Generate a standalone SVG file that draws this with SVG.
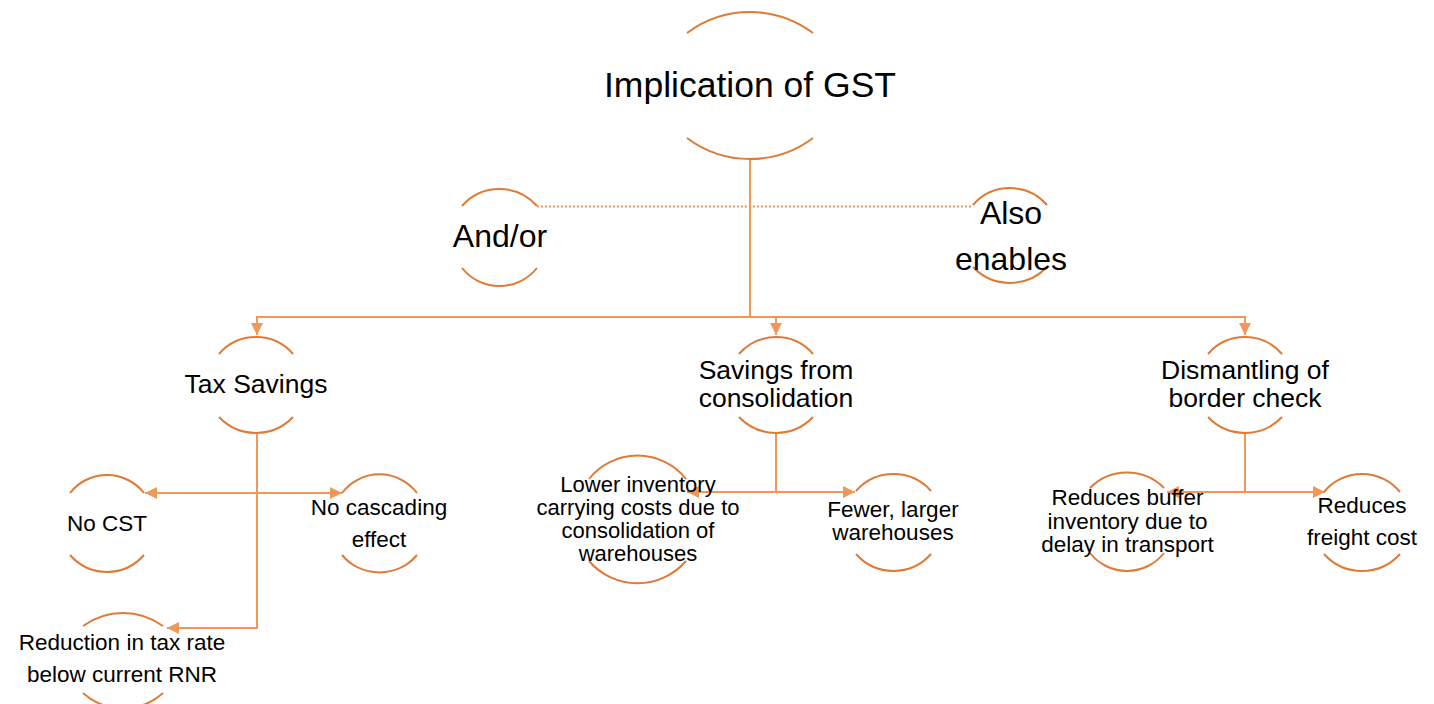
<svg xmlns="http://www.w3.org/2000/svg" width="1434" height="704" viewBox="0 0 1434 704">
<style>
.arc{fill:none;stroke:#E07A35;stroke-width:2}
.con{fill:none;stroke:#F0975A;stroke-width:2}
.dot{fill:none;stroke:#F0975A;stroke-width:2;stroke-dasharray:2 2}
text{font-family:"Liberation Sans",Arial,sans-serif;fill:#000;text-anchor:middle}
.t1{font-size:35.5px}
.t2{font-size:32px}
.t3{font-size:26.5px}
.t4{font-size:22.5px}
.t5{font-size:22px}
</style>
<defs>
<marker id="ah" markerUnits="userSpaceOnUse" markerWidth="12" markerHeight="12" refX="12" refY="6" orient="auto">
<path d="M0,0 L12,6 L0,12 z" fill="#F0975A"/>
</marker>
</defs>
<rect width="1434" height="704" fill="#fff"/>
<g id="connectors">
<path class="con" d="M750,159 V317"/>
<path class="con" d="M750,317 H257 V335" marker-end="url(#ah)"/>
<path class="con" d="M750,317 H1245 V335" marker-end="url(#ah)"/>
<path class="con" d="M776,317 V335" marker-end="url(#ah)"/>
<path class="dot" d="M537,206.5 H972"/>
<path class="con" d="M257,433 V493 H145" marker-end="url(#ah)"/>
<path class="con" d="M257,493 H342" marker-end="url(#ah)"/>
<path class="con" d="M257,493 V628 H167" marker-end="url(#ah)"/>
<path class="con" d="M776,434 V492 H687" marker-end="url(#ah)"/>
<path class="con" d="M776,492 H855" marker-end="url(#ah)"/>
<path class="con" d="M1245,434 V492 H1167" marker-end="url(#ah)"/>
<path class="con" d="M1245,492 H1325" marker-end="url(#ah)"/>
</g>
<g id="node-implication">
<path class="arc" d="M687,33 A105,105 0 0 1 813,33"/>
<path class="arc" d="M687,138 A105,105 0 0 0 813,138"/>
<text class="t1" x="750" y="97">Implication of GST</text>
</g>
<g id="node-andor">
<path class="arc" d="M462,206 A50,50 0 0 1 537,206"/>
<path class="arc" d="M462,268 A48,48 0 0 0 537,268"/>
<text class="t2" x="500" y="247">And/or</text>
</g>
<g id="node-also">
<path class="arc" d="M973,205 A49,49 0 0 1 1047,205"/>
<path class="arc" d="M973,267 A51,51 0 0 0 1047,267"/>
<text class="t2" x="1011" y="224">Also</text>
<text class="t2" x="1011" y="270">enables</text>
</g>
<g id="node-tax">
<path class="arc" d="M219,354 A49,49 0 0 1 293,354"/>
<path class="arc" d="M219,417 A51,51 0 0 0 293,417"/>
<text class="t3" x="256" y="393">Tax Savings</text>
</g>
<g id="node-savings">
<path class="arc" d="M739,354 A49,49 0 0 1 813,354"/>
<path class="arc" d="M739,417 A51,51 0 0 0 813,417"/>
<text class="t3" x="776" y="379">Savings from</text>
<text class="t3" x="776" y="407">consolidation</text>
</g>
<g id="node-dismantling">
<path class="arc" d="M1208,354 A49,49 0 0 1 1282,354"/>
<path class="arc" d="M1208,417 A51,51 0 0 0 1282,417"/>
<text class="t3" x="1245" y="379">Dismantling of</text>
<text class="t3" x="1245" y="407">border check</text>
</g>
<g id="node-nocst">
<path class="arc" d="M70,493 A47,47 0 0 1 144,493"/>
<path class="arc" d="M70,555 A49,49 0 0 0 144,555"/>
<text class="t4" x="107" y="531">No CST</text>
</g>
<g id="node-nocascading">
<path class="arc" d="M342,493 A47,47 0 0 1 417,493"/>
<path class="arc" d="M342,555 A49,49 0 0 0 417,555"/>
<text class="t4" x="379" y="515">No cascading</text>
<text class="t4" x="379" y="547">effect</text>
</g>
<g id="node-reduction">
<path class="arc" d="M83,626 A68,68 0 0 1 163,626"/>
<path class="arc" d="M83,693 A60,60 0 0 0 163,693"/>
<text class="t4" x="122" y="650">Reduction in tax rate</text>
<text class="t4" x="122" y="682">below current RNR</text>
</g>
<g id="node-lowerinventory">
<path class="arc" d="M589,479 A62,62 0 0 1 686,479"/>
<path class="arc" d="M589,561 A64,64 0 0 0 686,561"/>
<text class="t5" x="638" y="492">Lower inventory</text>
<text class="t5" x="638" y="515">carrying costs due to</text>
<text class="t5" x="638" y="538">consolidation of</text>
<text class="t5" x="638" y="561">warehouses</text>
</g>
<g id="node-fewer">
<path class="arc" d="M856,491 A50,50 0 0 1 931,491"/>
<path class="arc" d="M856,554 A50,50 0 0 0 931,554"/>
<text class="t4" x="893" y="517">Fewer, larger</text>
<text class="t4" x="893" y="540">warehouses</text>
</g>
<g id="node-buffer">
<path class="arc" d="M1090,488 A52,52 0 0 1 1164,488"/>
<path class="arc" d="M1090,553 A47,47 0 0 0 1164,553"/>
<text class="t4" x="1127.5" y="505">Reduces buffer</text>
<text class="t4" x="1127.5" y="529">inventory due to</text>
<text class="t4" x="1127.5" y="552">delay in transport</text>
</g>
<g id="node-freight">
<path class="arc" d="M1324,492 A49,49 0 0 1 1400,492"/>
<path class="arc" d="M1324,554 A51,51 0 0 0 1400,554"/>
<text class="t4" x="1362" y="513">Reduces</text>
<text class="t4" x="1362" y="545">freight cost</text>
</g>
</svg>
